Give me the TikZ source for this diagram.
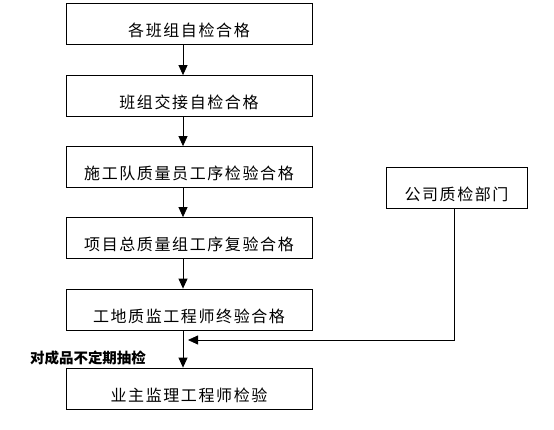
\documentclass[tikz,border=0pt]{standalone}
\usepackage{fontspec}
\newfontfamily\cjk[LetterSpace=10]{Noto Sans CJK SC}
\newfontfamily\cjkbold{Noto Sans CJK SC}
\usepackage{tikz}
\usetikzlibrary{arrows.meta, positioning}

\begin{document}
\begin{tikzpicture}[x=1pt, y=1pt, >={Triangle[length=10pt, width=9pt]},
    stepbox/.style={draw, line width=0.8pt, minimum width=246pt, inner sep=0pt,
        text height=33pt, text depth=8pt, font=\cjk\fontsize{16}{17}\selectfont},
    flow/.style={->, line width=0.8pt}]

    % =================================================================
    % 1. KHUNG NỀN VÀ CÁC BƯỚC KIỂM TRA CHÍNH
    % =================================================================
    \useasboundingbox (0,0) rectangle (554,-429);

    \node[stepbox] (b1) at (189,-24) {各班组自检合格};
    \node[stepbox] (b2) at (189,-96) {班组交接自检合格};
    \node[stepbox] (b3) at (189,-167) {施工队质量员工序检验合格};
    \node[stepbox] (b4) at (189,-238) {项目总质量组工序复验合格};
    \node[stepbox] (b5) at (189,-309.5) {工地质监工程师终验合格};
    \node[stepbox] (b6) at (189,-388.5) {业主监理工程师检验};

    % Bộ phận kiểm tra chất lượng của công ty
    \node[stepbox, minimum width=141pt] (qc) at (456.5,-187.5) {公司质检部门};

    % =================================================================
    % 2. MŨI TÊN NỐI CÁC BƯỚC
    % =================================================================
    \foreach \a/\b in {b1/b2, b2/b3, b3/b4, b4/b5, b5/b6}
        \draw[flow] ([xshift=-6pt]\a.south) -- ([xshift=-6pt]\b.north);

    % Nhánh kiểm tra đột xuất từ bên phải
    \coordinate (feed) at (188,-340);
    \draw[flow] ([xshift=-2pt]qc.south) |- (feed);

    % =================================================================
    % 3. CHÚ THÍCH
    % =================================================================
    \node[font=\cjkbold\bfseries\fontsize{14.5}{15}\selectfont] (spot) at (88,-358) {对成品不定期抽检};

\end{tikzpicture}
\end{document}
